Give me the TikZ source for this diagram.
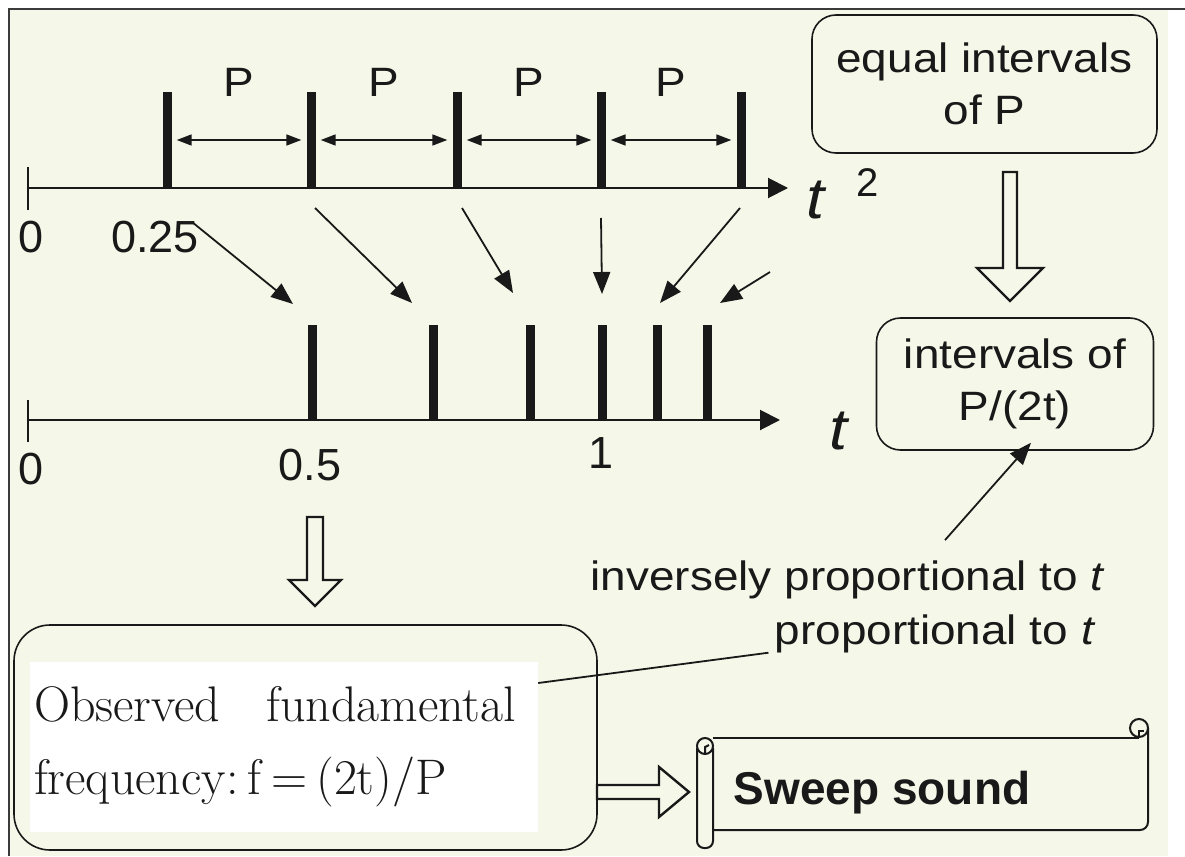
\documentclass[tikz,border=0pt]{standalone}
\usepackage{fontspec}
\setsansfont{Liberation Sans}
\newfontfamily\gothic{Liberation Sans}[FakeStretch=1.12]
\usetikzlibrary{arrows.meta}
\definecolor{paper}{RGB}{245,247,232}
\definecolor{ink}{RGB}{25,25,25}

\begin{document}
\begin{tikzpicture}[x=1pt, y=-1pt, line join=miter,
  every node/.style={font=\gothic\fontsize{41}{52}\selectfont, inner sep=0pt, text=ink},
  axisline/.style={line width=2pt, draw=ink},
  pulse/.style={fill=ink, minimum width=9pt, minimum height=96pt},
  maparrow/.style={line width=1.8pt, draw=ink, -{Triangle[length=22pt,width=17pt]}},
  parrow/.style={line width=1.7pt, draw=ink, {Triangle[length=15pt,width=11pt]}-{Triangle[length=15pt,width=11pt]}, shorten <=5pt, shorten >=5pt},
  notebox/.style={draw=ink, line width=1.6pt, rounded corners=24pt, align=center},
  hollow/.style={draw=ink, line width=2.4pt, fill=paper},
  scrollline/.style={draw=ink, line width=2pt},
  digit/.style={anchor=base, font=\sffamily\fontsize{45}{45}\selectfont},
  axislabel/.style={anchor=base west, font=\gothic\itshape\fontsize{58}{58}\selectfont}]

  % paper and frame
  \useasboundingbox (0,0) rectangle (1185,856);
  \fill[white] (0,0) rectangle (1185,856);
  \fill[paper] (9,9) rectangle (1168,856);
  \draw[line width=2.5pt, ink!85] (9,856) -- (9,9) -- (1185,9);

  % t^2 axis with equal spacing
  \draw[axisline, -{Triangle[length=20pt,width=20pt]}] (28,188) -- (788,188);
  \draw[axisline] (28,167) -- (28,210);
  \foreach \x [count=\i] in {167,311,457,601,741}
    \node[pulse] (a\i) at (\x,140) {};
  \foreach \i/\j in {1/2,2/3,3/4,4/5}
    \draw[parrow] (a\i) -- node[above=43pt] (p\i) {P} (a\j);
  \node[digit] (zeroA) at (31,252) {0};
  \node[digit] (quarter) at (155,252) {0.25};
  \node[axislabel] (tsq) at (806,218) {t};
  \node[anchor=base west, font=\sffamily\fontsize{40}{40}\selectfont] (tsqexp) at (856,196) {2};

  % t axis
  \draw[axisline, -{Triangle[length=20pt,width=20pt]}] (28,420) -- (780,420);
  \draw[axisline] (28,400) -- (28,442);
  \foreach \x [count=\i] in {312,433,530,602,657,707}
    \node[pulse, minimum height=95pt] (b\i) at (\x,372.5) {};
  \node[digit] (zeroB) at (31,484) {0};
  \node[digit] (half) at (310,480) {0.5};
  \node[digit] (one) at (601,468) {1};
  \node[axislabel] (tlin) at (829,449) {t};

  % mapping t^2 -> t
  \coordinate (s1) at (192,222);
  \coordinate (s2) at (315,208);
  \coordinate (s3) at (462,208);
  \coordinate (s4) at (601,218);
  \coordinate (s5) at (740,208);
  \coordinate (s6) at (770,272);
  \coordinate (e1) at (293,304);
  \coordinate (e2) at (412,303);
  \coordinate (e3) at (513,293);
  \coordinate (e4) at (602,294);
  \coordinate (e5) at (660,303);
  \coordinate (e6) at (720,303);
  \foreach \i in {1,...,6}
    \draw[maparrow] (s\i) -- (e\i);

  % right column
  \node[notebox, minimum width=345pt, minimum height=138pt] (eqbox) at (984.5,84) {equal intervals\\of P};
  \draw[hollow] (1003,172) -- (1017,172) -- (1017,268) -- (1043,268) -- (1010,301)
    -- (977,268) -- (1003,268) -- cycle;
  \node[notebox, minimum width=277pt, minimum height=132pt] (ivbox) at (1015,384) {intervals of\\P/(2t)};
  \node[anchor=base] (inv) at (848,590) {inversely proportional to \textit{t}};
  \draw[maparrow] ([xshift=97pt,yshift=20pt]inv.north) -- ([xshift=16pt,yshift=8pt]ivbox.south);
  \node[anchor=base] (prop) at (935,644) {proportional to \textit{t}};

  % result box
  \draw[hollow] (307,517) -- (323,517) -- (323,580) -- (341,580) -- (315,606)
    -- (289,580) -- (307,580) -- cycle;
  \node[notebox, rounded corners=36pt, minimum width=583pt, minimum height=225pt] (obsbox) at (305.5,737.5) {};
  \node[fill=white, minimum width=508pt, minimum height=170pt, text width=500pt, align=left,
    font=\rmfamily\fontsize{50}{73}\selectfont] (obs) at (284,747)
    {Observed\hspace{46pt}fundamental\\frequency:\hspace{9pt}f\hspace{10pt}=\hspace{9pt}(2t)/P};
  \draw[line width=1.8pt, draw=ink] ([yshift=64pt]obs.east) -- ([xshift=-6pt]prop.south west);

  % sweep sound scroll
  \draw[hollow] (597,785) -- (659,785) -- (659,767) -- (689,792) -- (659,817)
    -- (659,799) -- (597,799) -- cycle;
  \draw[scrollline] (713,738) -- (1139,738);
  \draw[scrollline, rounded corners=8pt] (1148,728) -- (1148,830) -- (713,830);
  \draw[scrollline] (1139,728) circle[radius=9pt];
  \draw[scrollline] (1139,737) -- (1139,731) -- (1144,731);
  \draw[scrollline, rounded corners=7pt, fill=paper] (697,748) -- (697,848) -- (713,848) -- (713,748);
  \draw[scrollline] (705,746) circle[radius=8pt];
  \draw[scrollline] (705,754) -- (705,747) -- (709,745);
  \node[anchor=base, font=\sffamily\bfseries\fontsize{46}{50}\selectfont] (sweep) at (882,804) {Sweep sound};
\end{tikzpicture}
\end{document}
